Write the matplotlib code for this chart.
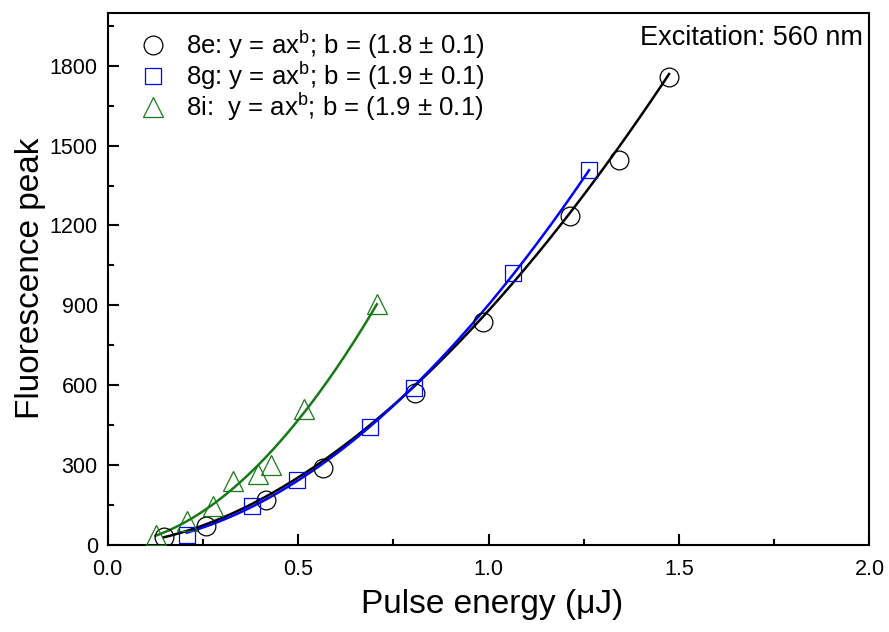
import numpy as np
import matplotlib
matplotlib.use("Agg")
import matplotlib.pyplot as plt
from matplotlib.ticker import MultipleLocator

plt.rcParams['font.family'] = ['Liberation Sans', 'DejaVu Sans']
plt.rcParams['mathtext.default'] = 'regular'

# data
x_8e = [0.147, 0.258, 0.415, 0.565, 0.807, 0.986, 1.214, 1.343, 1.474]
y_8e = [28, 72, 170, 290, 572, 836, 1235, 1446, 1759]
x_8g = [0.208, 0.378, 0.497, 0.688, 0.804, 1.064, 1.264]
y_8g = [38, 144, 245, 443, 591, 1020, 1408]
x_8i = [0.126, 0.208, 0.277, 0.328, 0.395, 0.428, 0.516, 0.707]
y_8i = [36, 88, 144, 238, 267, 299, 511, 904]

# power-law fits y = a*x^b
fit_a = [880, 902, 1747]
fit_b = [1.8, 1.9, 1.9]
labels = ['8e: y = ax$^{b}$; b = (1.8 $\\pm$ 0.1)',
          '8g: y = ax$^{b}$; b = (1.9 $\\pm$ 0.1)',
          '8i:  y = ax$^{b}$; b = (1.9 $\\pm$ 0.1)']
colors = ['black', '#0000ff', '#177a17']
markers = ['o', 's', '^']
msizes = [13.5, 12, 14]

fig = plt.figure(figsize=(8.89, 6.32), dpi=100)
ax = fig.add_axes([0.121, 0.138, 0.857, 0.842])

series = [(x_8e, y_8e), (x_8g, y_8g), (x_8i, y_8i)]
handles = []
for i, (xs, ys) in enumerate(series):
    xf = np.linspace(min(xs), max(xs), 200)
    ax.plot(xf, fit_a[i] * xf ** fit_b[i], color=colors[i], lw=1.8, zorder=2)
for i, (xs, ys) in enumerate(series):
    h, = ax.plot(xs, ys, linestyle='none', marker=markers[i], ms=msizes[i],
                 mfc='none', mec=colors[i], mew=0.9, label=labels[i], zorder=3)
    handles.append(h)

ax.set_xlim(0, 2.0)
ax.set_ylim(0, 2000)
ax.xaxis.set_major_locator(MultipleLocator(0.5))
ax.xaxis.set_minor_locator(MultipleLocator(0.25))
ax.yaxis.set_major_locator(MultipleLocator(300))
ax.yaxis.set_minor_locator(MultipleLocator(150))
ax.set_xticks([0, 0.5, 1.0, 1.5, 2.0])
ax.set_yticks([0, 300, 600, 900, 1200, 1500, 1800])
ax.tick_params(which='both', direction='in', top=False, right=False, width=1.5)
ax.tick_params(which='major', length=8, labelsize=15.5)
ax.tick_params(axis='x', which='major', pad=10)
ax.tick_params(axis='y', which='major', pad=7)
ax.tick_params(which='minor', length=4.5)
for s in ax.spines.values():
    s.set_linewidth(1.5)

ax.set_xlabel('Pulse energy (\u03bcJ)', fontsize=24, va='center')
ax.set_ylabel('Fluorescence peak', fontsize=24, va='center')
ax.xaxis.set_label_coords(0.505, -0.113)
ax.yaxis.set_label_coords(-0.101, 0.5)

ax.legend(handles=handles, loc='upper left', bbox_to_anchor=(0.022, 0.998),
          frameon=False, fontsize=18.5, handlelength=1.05, handletextpad=0.75,
          labelspacing=-0.05, borderaxespad=0.2)
ax.text(0.992, 0.953, 'Excitation: 560 nm', transform=ax.transAxes,
        ha='right', va='center', fontsize=19.5)

fig.savefig('out.png', dpi=100)
